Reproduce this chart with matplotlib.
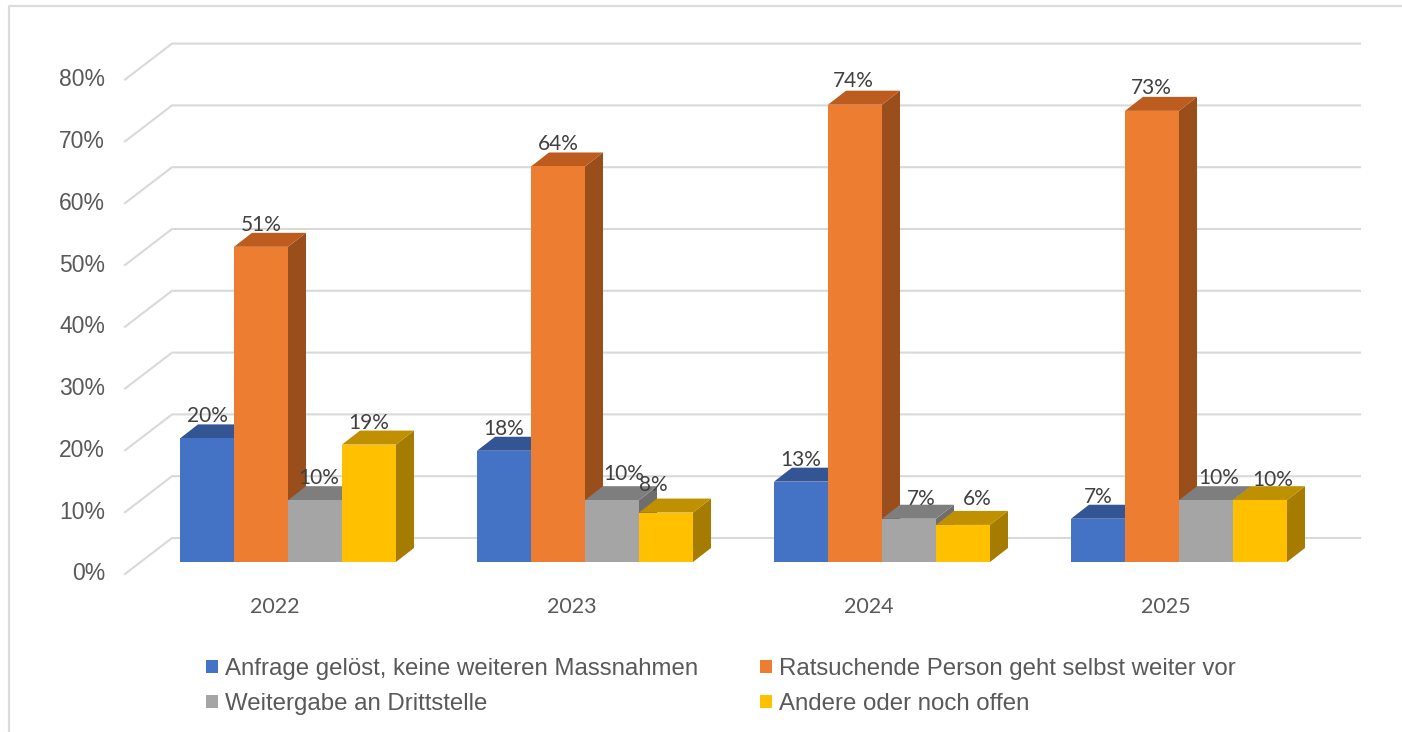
import matplotlib
matplotlib.use('Agg')
import matplotlib.pyplot as plt
from matplotlib.lines import Line2D

years = ['2022', '2023', '2024', '2025']
series_names = [
    'Anfrage gelöst, keine weiteren Massnahmen',
    'Ratsuchende Person geht selbst weiter vor',
    'Weitergabe an Drittstelle',
    'Andere oder noch offen',
]
geloest = [20, 18, 13, 7]
selbst = [51, 64, 74, 73]
weitergabe = [10, 10, 7, 10]
andere = [19, 8, 6, 10]
y_ticks = [0, 10, 20, 30, 40, 50, 60, 70, 80]

front_colors = ['#4472C4', '#ED7D31', '#A5A5A5', '#FFC000']
top_colors = ['#335593', '#BC5D1F', '#7E7E7E', '#BF9000']
side_colors = ['#2B4778', '#9A4E1C', '#6E6E6E', '#A67C00']
text_color = '#595959'
grid_color = '#D9D9D9'

# pixel layout of the picture
W, H = 1402, 732
X0, STEP = 288, 297     # centre of first group, distance between groups
Y0, PCT = 562, 6.18     # baseline, pixels per percent


def px_x(x):
    return (x - X0) / STEP


def px_y(y):
    return (Y0 - y) / PCT


# nudge of data labels, px
label_nudge = [[0, 0, 4, 0], [0, 0, 12, -13], [0, -2, 12, 14], [0, -1, 13, 13]]
label_lift = [[0, 0, 0, 0], [0, 0, 4, 6], [0, 2, -2, 4], [0, 1, 0, -2]]

bar_w = 54 / STEP
dx = 18 / STEP
dy = 14 / PCT

fig = plt.figure(figsize=(W / 100, H / 100), dpi=100)
ax = fig.add_axes([0, 0, 1, 1])
ax.set_xlim(px_x(0), px_x(W))
ax.set_ylim(px_y(H), px_y(0))
ax.axis('off')

# rahmen
fig.add_artist(Line2D([8.5 / W, 8.5 / W, 1], [0, 1 - 5.5 / H, 1 - 5.5 / H],
                      color='#DCDCDC', lw=1.6))

# wand + boden
for t in y_ticks:
    ax.plot([px_x(125), px_x(172), px_x(1360)],
            [t - 12 / PCT, t + 24 / PCT, t + 24 / PCT],
            color=grid_color, lw=1.5, solid_joinstyle='miter', zorder=0)
    ax.text(px_x(105), t - 12 / PCT, f'{t}%', ha='right', va='center',
            fontsize=16.5, color=text_color, family='Liberation Sans')

values = [geloest, selbst, weitergabe, andere]
for i, year in enumerate(years):
    for j, vals in enumerate(values):
        left = i + (j - 2) * bar_w
        right = left + bar_w
        v = vals[i]
        ax.fill([right, right + dx, right + dx, right],
                [0, dy, v + dy, v], color=side_colors[j], lw=0)
        ax.fill([left, left + dx, right + dx, right],
                [v, v + dy, v + dy, v], color=top_colors[j], lw=0)
        ax.bar(left, v, width=bar_w, align='edge', color=front_colors[j],
               label=series_names[j] if i == 0 else None)

for i, year in enumerate(years):
    ax.text(i - 13 / STEP, px_y(607), year, ha='center', va='center',
            fontsize=15.5, color=text_color, family='Lato')
    for j, vals in enumerate(values):
        centre = i + (j - 1.5) * bar_w + label_nudge[i][j] / STEP
        ax.text(centre, vals[i] + (22 + label_lift[i][j]) / PCT, f'{vals[i]}%',
                ha='center', va='center',
                fontsize=15, color='#404040', family='Lato', zorder=5)

# legende spaltenweise gefuellt
handles, labels = ax.get_legend_handles_labels()
order = [0, 2, 1, 3]
leg = ax.legend([handles[k] for k in order], [labels[k] for k in order],
                ncol=2, frameon=False, loc='upper left',
                bbox_to_anchor=(206 / W, 1 - 658 / H),
                prop={'family': 'Liberation Sans', 'size': 17.3},
                handlelength=0.5, handleheight=0.5, handletextpad=0.3,
                columnspacing=2.55, labelspacing=0.54, borderpad=0, borderaxespad=0,
                labelcolor=text_color)

plt.savefig('out.png', dpi=100)
